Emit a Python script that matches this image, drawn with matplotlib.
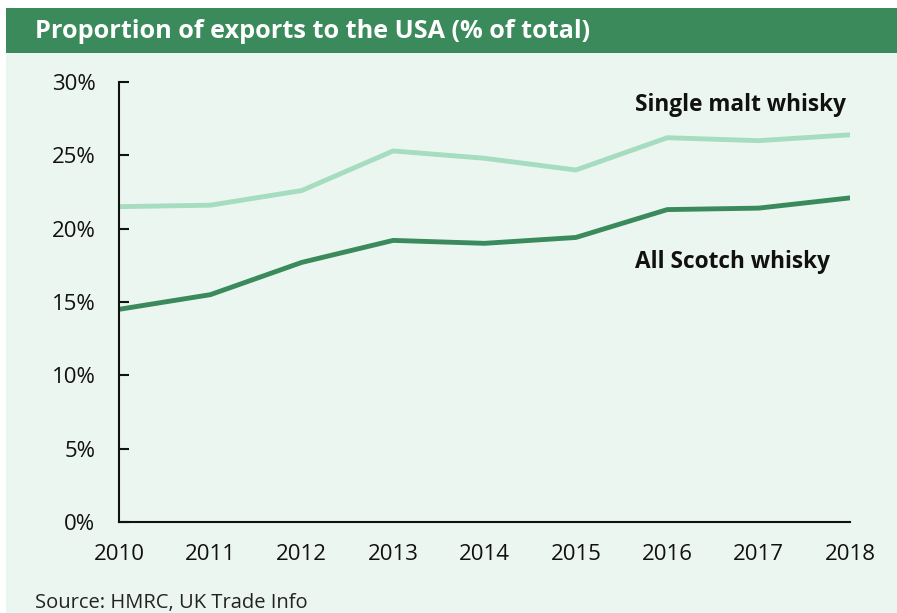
import matplotlib.pyplot as plt
from matplotlib.patches import Rectangle
from matplotlib.ticker import FuncFormatter

plt.rcParams['font.family'] = ['Open Sans', 'DejaVu Sans']

years = [2010, 2011, 2012, 2013, 2014, 2015, 2016, 2017, 2018]
single_malt = [21.5, 21.6, 22.6, 25.3, 24.8, 24.0, 26.2, 26.0, 26.4]
all_scotch = [14.5, 15.5, 17.7, 19.2, 19.0, 19.4, 21.3, 21.4, 22.1]
y_ticks = [0, 5, 10, 15, 20, 25, 30]

dark_green = '#3a8a5c'
light_green = '#a6dcc0'
bg = '#ecf6f0'

W, H = 897, 613
fig = plt.figure(figsize=(W / 100, H / 100), dpi=100)
fig.patch.set_facecolor('white')

# background panel and title bar
fig.add_artist(Rectangle((6 / W, 0), 1, 1 - 53 / H, transform=fig.transFigure,
                         facecolor=bg, edgecolor='none', zorder=0))
fig.add_artist(Rectangle((6 / W, 1 - 53 / H), 1, 45 / H, transform=fig.transFigure,
                         facecolor=dark_green, edgecolor='none', zorder=0))
fig.text(35 / W, 1 - 31 / H, 'Proportion of exports to the USA (% of total)',
         color='white', fontsize=18.2, fontweight='bold', va='center', ha='left')

ax = fig.add_axes([119 / W, 1 - 522 / H, (850 - 119) / W, (522 - 82) / H])
ax.set_facecolor('none')

ax.plot(years, single_malt, color=light_green, lw=3.5, solid_capstyle='round')
ax.plot(years, all_scotch, color=dark_green, lw=3.5, solid_capstyle='round')

ax.set_xlim(2010, 2018)
ax.set_ylim(0, 30)
ax.set_yticks(y_ticks)
ax.yaxis.set_major_formatter(FuncFormatter(lambda v, p: f'{v:.0f}%'))
ax.set_xticks(years)

for s in ['top', 'right']:
    ax.spines[s].set_visible(False)
for s in ['left', 'bottom']:
    ax.spines[s].set_linewidth(1.5)
    ax.spines[s].set_color('#111111')

ax.tick_params(axis='y', direction='in', length=7, width=1.5, labelsize=16,
               pad=17, colors='#111111')
ax.tick_params(axis='x', length=0, labelsize=16, pad=16, colors='#111111')

ax.text(2015.65, 28.45, 'Single malt whisky', fontsize=16.3, fontweight='bold',
        va='center', ha='left', color='#111111')
ax.text(2015.65, 17.75, 'All Scotch whisky', fontsize=16.3, fontweight='bold',
        va='center', ha='left', color='#111111')

fig.text(35 / W, 1 - 603 / H, 'Source: HMRC, UK Trade Info', fontsize=14.5,
         va='center', ha='left', color='#222222')

fig.savefig('out.png', dpi=100, facecolor=fig.get_facecolor())
